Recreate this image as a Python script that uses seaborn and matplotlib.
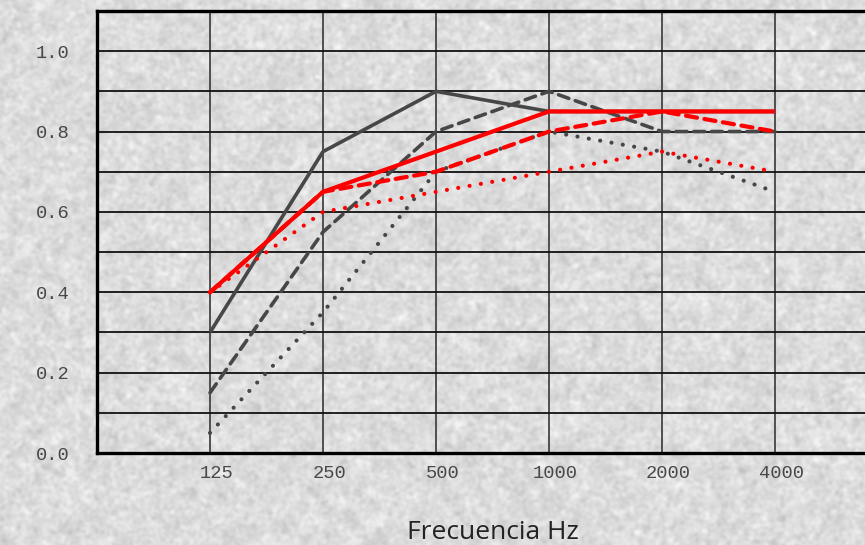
import numpy as np
import pandas as pd
import matplotlib
matplotlib.use("Agg")
import matplotlib.pyplot as plt
import matplotlib.transforms as mtransforms
import seaborn as sns

# ---- data ----
frequencies = ["125", "250", "500", "1000", "2000", "4000"]
gray_solid = [0.30, 0.75, 0.90, 0.85, 0.85, 0.85]
gray_dashed = [0.15, 0.55, 0.80, 0.90, 0.80, 0.80]
gray_dotted = [0.05, 0.35, 0.70, 0.80, 0.75, 0.65]
red_dotted = [0.40, 0.60, 0.65, 0.70, 0.75, 0.70]
red_dashed = [0.40, 0.65, 0.70, 0.80, 0.85, 0.80]
red_solid = [0.40, 0.65, 0.75, 0.85, 0.85, 0.85]
y_tick_labels = ["0.0", "0.2", "0.4", "0.6", "0.8", "1.0"]
x_label = "Frecuencia Hz"

sns.set_theme(style="white")
plt.rcParams["font.family"] = ["DejaVu Sans"]

W, H = 865, 545
fig = plt.figure(figsize=(W / 100, H / 100), dpi=100)

# stucco-like background texture (decoration only)
rng = np.random.default_rng(3)
def blur(img, sigma):
    ky = np.fft.fftfreq(img.shape[0])[:, None]
    kx = np.fft.fftfreq(img.shape[1])[None, :]
    g = np.exp(-2 * (np.pi * sigma) ** 2 * (kx ** 2 + ky ** 2))
    return np.real(np.fft.ifft2(np.fft.fft2(img) * g))
n1 = blur(rng.standard_normal((H, W)), 1.6)
n2 = blur(rng.standard_normal((H, W)), 4.0)
tex = n1 / n1.std() * 0.6 + n2 / n2.std() * 0.4
tex = 0.865 + 0.035 * tex
tex = np.clip(tex, 0, 1)
bg = fig.add_axes([0, 0, 1, 1], zorder=-5)
bg.imshow(np.dstack([tex, tex, tex]), aspect="auto", interpolation="nearest")
bg.set_axis_off()

ax = fig.add_axes([97 / W, (H - 453) / H, 791 / W, (453 - 11) / H], zorder=1)
ax.set_facecolor("none")

x = np.arange(1, len(frequencies) + 1)
series = [
    (gray_solid, "#474747", "-", 2.6, 2),
    (gray_dashed, "#474747", (0, (3.0, 1.9)), 2.6, 3),
    (gray_dotted, "#474747", (0, (0.01, 2.75)), 3.0, 4),
    (red_dotted, "#ff0000", (0, (0.01, 2.75)), 3.0, 5),
    (red_dashed, "#ff0000", (0, (2.7, 1.8)), 3.0, 6),
    (red_solid, "#ff0000", "-", 3.0, 7),
]
for vals, col, ls, lw, z in series:
    df = pd.DataFrame({"x": x, "y": vals})
    sns.lineplot(data=df, x="x", y="y", ax=ax, color=col, linewidth=lw,
                 zorder=z)
    line = ax.lines[-1]
    line.set_linestyle(ls)
    line.set_dash_capstyle("round")
    line.set_solid_capstyle("butt")

ax.set_xlim(0, 7)
ax.set_ylim(0, 1.1)
ax.set_xticks(x)
ax.set_xticklabels(frequencies)
ax.set_yticks(np.arange(len(y_tick_labels)) * 0.2)
ax.set_yticklabels(y_tick_labels)
ax.set_yticks(np.arange(1, 11, 2) * 0.1, minor=True)

ax.tick_params(axis="x", length=0, pad=9, labelsize=13.5, labelcolor="#484848")
ax.tick_params(axis="y", which="both", direction="in", length=10, width=1.6,
               color="#111111", pad=20, labelsize=13.5, labelcolor="#484848")

ax.grid(False)
ax.grid(True, axis="y", which="both", color="#111111", linewidth=1.3, zorder=1)
ax.grid(True, axis="x", which="major", color="#444444", linewidth=1.3, zorder=1)
ax.set_axisbelow(True)

for side in ["left", "bottom", "top"]:
    ax.spines[side].set_visible(True)
    ax.spines[side].set_color("#000000")
    ax.spines[side].set_linewidth(2.4)
ax.spines["right"].set_visible(False)

ax.set_xlabel(x_label, fontsize=19, fontfamily="Open Sans", color="#222222",
              labelpad=27)
ax.set_ylabel("")

mono = "Liberation Mono"
off = mtransforms.ScaledTranslation(0.065, 0, fig.dpi_scale_trans)
for t in ax.xaxis.get_major_ticks():
    t.label1.set_fontfamily(mono)
    t.label1.set_transform(t.label1.get_transform() + off)
for t in ax.yaxis.get_major_ticks():
    t.label1.set_fontfamily(mono)

fig.savefig("out.png", dpi=100)
